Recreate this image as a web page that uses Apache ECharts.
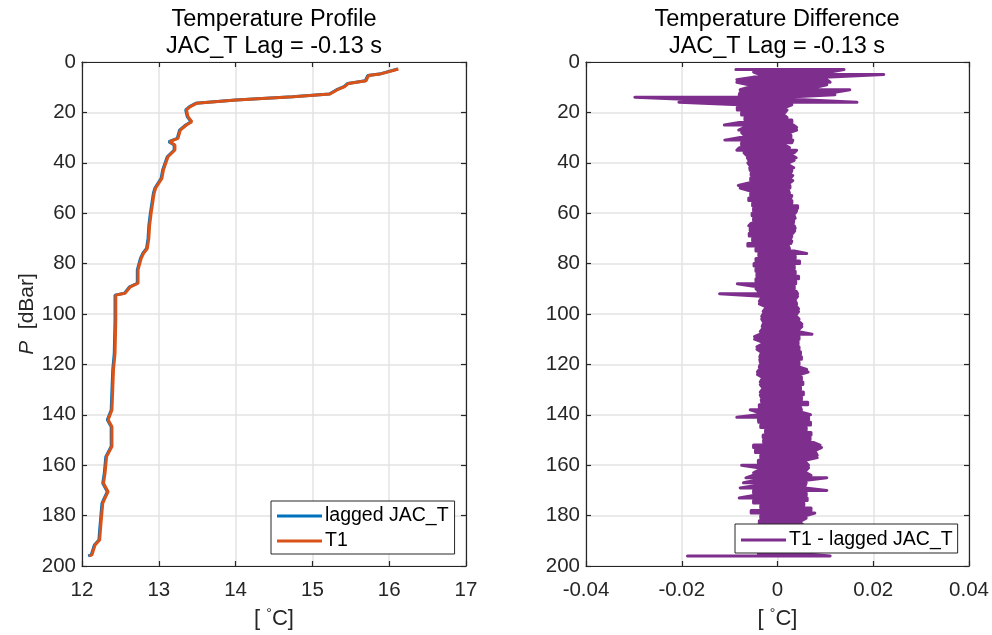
<!DOCTYPE html>
<html>
<head>
<meta charset="utf-8">
<script src="https://cdn.jsdelivr.net/npm/echarts@6/dist/echarts.min.js"></script>
<style>
  html, body { margin: 0; padding: 0; background: #fff; }
  #chart { width: 992px; height: 635px; }
</style>
</head>
<body>
<div id="chart"></div>
<script>
// Temperature profile: pressure (dBar) and temperature (deg C)
const profP = [2.8, 4.8, 5.4, 7.4, 8.5, 9.8, 11.1, 12.7, 13.8, 15.1,
  16.4, 17.7, 19.0, 21.7, 23.7, 25.0, 27.0, 30.3, 31.6, 32.9,
  34.9, 37.6, 42.9, 46.2, 50.0, 52.0, 56.0, 60.0, 65.0, 70.0,
  74.0, 76.0, 78.0, 82.5, 87.8, 89.2, 91.8, 92.5, 102.4, 115.6,
  122.2, 138.1, 142.0, 144.7, 152.6, 156.6, 163.2, 167.2, 170.5, 173.1,
  175.1, 185.7, 189.7, 191.7, 195.6, 196.0];
const t1 = [16.12, 15.88, 15.73, 15.70, 15.47, 15.42, 15.32, 15.23, 14.75, 14.01,
  13.49, 13.41, 13.36, 13.38, 13.43, 13.36, 13.28, 13.25, 13.14, 13.21,
  13.21, 13.12, 13.06, 13.04, 12.96, 12.94, 12.92, 12.90, 12.88, 12.87,
  12.85, 12.80, 12.77, 12.73, 12.73, 12.63, 12.56, 12.44, 12.44, 12.43,
  12.41, 12.39, 12.34, 12.39, 12.39, 12.32, 12.30, 12.28, 12.34, 12.30,
  12.27, 12.24, 12.23, 12.17, 12.13, 12.09];
const laggedJacT = [16.11, 15.87, 15.72, 15.69, 15.46, 15.41, 15.31, 15.22, 14.74, 14.00,
  13.48, 13.40, 13.35, 13.37, 13.42, 13.35, 13.27, 13.24, 13.13, 13.20,
  13.20, 13.11, 13.05, 13.03, 12.95, 12.93, 12.91, 12.89, 12.87, 12.86,
  12.84, 12.79, 12.76, 12.72, 12.72, 12.62, 12.55, 12.43, 12.43, 12.42,
  12.40, 12.38, 12.33, 12.38, 12.38, 12.31, 12.29, 12.27, 12.33, 12.29,
  12.26, 12.23, 12.22, 12.16, 12.12, 12.08];

// T1 - lagged JAC_T: per pressure level, the most negative and most positive
// excursion of the difference signal (deg C)
const diffP = [3, 4, 5, 6, 7, 8, 9, 10, 11, 12,
  13, 14, 15, 16, 17, 18, 19, 20, 21, 22,
  23, 24, 25, 26, 27, 28, 29, 30, 31, 32,
  33, 34, 35, 36, 37, 38, 39, 40, 41, 42,
  43, 44, 45, 46, 47, 48, 49, 50, 51, 52,
  53, 54, 55, 56, 57, 58, 59, 60, 61, 62,
  63, 64, 65, 66, 67, 68, 69, 70, 71, 72,
  73, 74, 75, 76, 77, 78, 79, 80, 81, 82,
  83, 84, 85, 86, 87, 88, 89, 90, 91, 92,
  93, 94, 95, 96, 97, 98, 99, 100, 101, 102,
  103, 104, 105, 106, 107, 108, 109, 110, 111, 112,
  113, 114, 115, 116, 117, 118, 119, 120, 121, 122,
  123, 124, 125, 126, 127, 128, 129, 130, 131, 132,
  133, 134, 135, 136, 137, 138, 139, 140, 141, 142,
  143, 144, 145, 146, 147, 148, 149, 150, 151, 152,
  153, 154, 155, 156, 157, 158, 159, 160, 161, 162,
  163, 164, 165, 166, 167, 168, 169, 170, 171, 172,
  173, 174, 175, 176, 177, 178, 179, 180, 181, 182,
  183, 184, 185, 186, 187, 188, 189, 190, 191, 192,
  193, 194, 195, 196];
const diffLow = [-0.0087, -0.0050, -0.0036, -0.0050, -0.0085, -0.0085, -0.0060, -0.0060, -0.0078, -0.0078,
  -0.0080, -0.0298, -0.0170, -0.0206, -0.0080, -0.0084, -0.0084, -0.0075, -0.0075, -0.0068,
  -0.0068, -0.0080, -0.0111, -0.0070, -0.0081, -0.0075, -0.0070, -0.0078, -0.0110, -0.0075,
  -0.0075, -0.0080, -0.0085, -0.0070, -0.0065, -0.0063, -0.0060, -0.0062, -0.0058, -0.0058,
  -0.0057, -0.0055, -0.0055, -0.0056, -0.0056, -0.0060, -0.0082, -0.0078, -0.0060, -0.0056,
  -0.0056, -0.0060, -0.0060, -0.0052, -0.0052, -0.0050, -0.0050, -0.0053, -0.0053, -0.0050,
  -0.0050, -0.0055, -0.0060, -0.0057, -0.0057, -0.0059, -0.0059, -0.0052, -0.0052, -0.0062,
  -0.0062, -0.0045, -0.0045, -0.0039, -0.0039, -0.0045, -0.0045, -0.0049, -0.0049, -0.0045,
  -0.0045, -0.0043, -0.0043, -0.0045, -0.0045, -0.0084, -0.0050, -0.0045, -0.0040, -0.0121,
  -0.0035, -0.0035, -0.0038, -0.0038, -0.0026, -0.0026, -0.0030, -0.0030, -0.0033, -0.0033,
  -0.0030, -0.0030, -0.0032, -0.0032, -0.0036, -0.0036, -0.0048, -0.0048, -0.0033, -0.0033,
  -0.0043, -0.0043, -0.0035, -0.0035, -0.0037, -0.0037, -0.0036, -0.0036, -0.0038, -0.0038,
  -0.0042, -0.0042, -0.0033, -0.0033, -0.0036, -0.0036, -0.0032, -0.0032, -0.0036, -0.0036,
  -0.0034, -0.0034, -0.0033, -0.0038, -0.0038, -0.0057, -0.0040, -0.0040, -0.0085, -0.0040,
  -0.0039, -0.0035, -0.0035, -0.0025, -0.0025, -0.0030, -0.0030, -0.0029, -0.0029, -0.0050,
  -0.0050, -0.0046, -0.0046, -0.0035, -0.0035, -0.0040, -0.0040, -0.0075, -0.0040, -0.0040,
  -0.0050, -0.0050, -0.0066, -0.0045, -0.0071, -0.0045, -0.0078, -0.0050, -0.0050, -0.0050,
  -0.0080, -0.0050, -0.0050, -0.0035, -0.0035, -0.0055, -0.0055, -0.0035, -0.0035, -0.0038,
  -0.0038, -0.0038, -0.0035, -0.0035, -0.0036, -0.0036, -0.0038, -0.0038, -0.0035, -0.0035,
  -0.0035, -0.0035, -0.0040, -0.0188];
const diffHigh = [0.0139, 0.0110, 0.0222, 0.0110, 0.0103, 0.0110, 0.0103, 0.0080, 0.0151, 0.0120,
  0.0120, 0.0013, 0.0054, 0.0166, 0.0030, 0.0016, 0.0020, 0.0016, 0.0013, 0.0020,
  0.0030, 0.0030, 0.0033, 0.0040, 0.0040, 0.0025, 0.0028, 0.0028, 0.0032, 0.0030,
  0.0015, 0.0025, 0.0040, 0.0035, 0.0030, 0.0039, 0.0035, 0.0023, 0.0025, 0.0034,
  0.0030, 0.0028, 0.0032, 0.0028, 0.0032, 0.0025, 0.0026, 0.0026, 0.0023, 0.0025,
  0.0030, 0.0028, 0.0030, 0.0030, 0.0042, 0.0042, 0.0040, 0.0037, 0.0035, 0.0037,
  0.0034, 0.0033, 0.0035, 0.0037, 0.0036, 0.0032, 0.0030, 0.0028, 0.0030, 0.0028,
  0.0023, 0.0025, 0.0035, 0.0061, 0.0037, 0.0037, 0.0046, 0.0046, 0.0035, 0.0035,
  0.0037, 0.0037, 0.0044, 0.0044, 0.0038, 0.0038, 0.0035, 0.0035, 0.0039, 0.0042,
  0.0042, 0.0038, 0.0038, 0.0040, 0.0040, 0.0044, 0.0044, 0.0040, 0.0040, 0.0045,
  0.0045, 0.0051, 0.0051, 0.0045, 0.0045, 0.0072, 0.0045, 0.0045, 0.0043, 0.0043,
  0.0045, 0.0045, 0.0048, 0.0048, 0.0050, 0.0050, 0.0045, 0.0045, 0.0045, 0.0061,
  0.0064, 0.0046, 0.0050, 0.0050, 0.0053, 0.0053, 0.0048, 0.0048, 0.0054, 0.0054,
  0.0050, 0.0050, 0.0063, 0.0063, 0.0048, 0.0050, 0.0050, 0.0069, 0.0065, 0.0065,
  0.0069, 0.0069, 0.0060, 0.0060, 0.0070, 0.0070, 0.0068, 0.0068, 0.0075, 0.0089,
  0.0092, 0.0080, 0.0080, 0.0083, 0.0083, 0.0060, 0.0060, 0.0065, 0.0065, 0.0060,
  0.0060, 0.0070, 0.0103, 0.0060, 0.0060, 0.0058, 0.0058, 0.0103, 0.0060, 0.0060,
  0.0062, 0.0062, 0.0055, 0.0055, 0.0070, 0.0070, 0.0078, 0.0060, 0.0060, 0.0050,
  0.0050, 0.0055, 0.0055, 0.0050, 0.0050, 0.0052, 0.0052, 0.0050, 0.0050, 0.0055,
  0.0055, 0.0050, 0.0050, 0.0110];

// Axis ticks
const profTempTicks = { min: 12, max: 17, interval: 1 };
const diffTempTicks = { min: -0.04, max: 0.04, interval: 0.02 };
const presTicks = { min: 0, max: 200, interval: 20 };

const FONT = '"Liberation Sans", Arial, Helvetica, sans-serif';
const AX = '#262626';
const GRIDC = '#e3e3e3';
const TICK_FS = 20.5;

function pairs(xs, ys) { return xs.map((x, i) => [x, ys[i]]); }

// Serpentine trace through the low/high excursion of every level
function serpentine(levels, low, high) {
  const out = [];
  levels.forEach((p, i) => {
    if (i % 2 === 0) { out.push([low[i], p], [high[i], p]); }
    else { out.push([high[i], p], [low[i], p]); }
  });
  return out;
}

function bottomAxis(gi, t) {
  return {
    gridIndex: gi, type: 'value', position: 'bottom',
    min: t.min, max: t.max, interval: t.interval,
    name: '[ {deg|°}C]', nameLocation: 'middle', nameGap: 41,
    nameTextStyle: { color: AX, fontSize: 22, fontFamily: FONT,
      rich: { deg: { fontSize: 14, color: AX, fontFamily: FONT, padding: [0, 0, 10, 0] } } },
    axisLine: { show: true, onZero: false, lineStyle: { color: AX, width: 1.2 } },
    axisTick: { show: true, inside: true, length: 5, lineStyle: { color: AX, width: 1.2 } },
    axisLabel: { color: AX, fontSize: TICK_FS, fontFamily: FONT, margin: 14 },
    splitLine: { show: true, lineStyle: { color: GRIDC, width: 1.5 } }
  };
}
function topAxis(gi, t) {
  return {
    gridIndex: gi, type: 'value', position: 'top',
    min: t.min, max: t.max, interval: t.interval,
    axisLine: { show: true, onZero: false, lineStyle: { color: AX, width: 1.2 } },
    axisTick: { show: true, inside: true, length: 5, lineStyle: { color: AX, width: 1.2 } },
    axisLabel: { show: false }, splitLine: { show: false }
  };
}
function leftAxis(gi, withName) {
  const a = {
    gridIndex: gi, type: 'value', position: 'left', inverse: true,
    min: presTicks.min, max: presTicks.max, interval: presTicks.interval,
    axisLine: { show: true, onZero: false, lineStyle: { color: AX, width: 1.2 } },
    axisTick: { show: true, inside: true, length: 5, lineStyle: { color: AX, width: 1.2 } },
    axisLabel: { color: AX, fontSize: TICK_FS, fontFamily: FONT, margin: 6 },
    splitLine: { show: true, lineStyle: { color: GRIDC, width: 1.5 } }
  };
  if (withName) {
    a.name = '{it|P}  [dBar]';
    a.nameLocation = 'middle';
    a.nameGap = 44;
    a.nameTextStyle = { color: AX, fontSize: 21, fontFamily: FONT,
      rich: { it: { fontStyle: 'italic', fontSize: 21, color: AX, fontFamily: FONT } } };
  }
  return a;
}
function rightAxis(gi) {
  return {
    gridIndex: gi, type: 'value', position: 'right', inverse: true,
    min: presTicks.min, max: presTicks.max, interval: presTicks.interval,
    axisLine: { show: true, onZero: false, lineStyle: { color: AX, width: 1.2 } },
    axisTick: { show: true, inside: true, length: 5, lineStyle: { color: AX, width: 1.2 } },
    axisLabel: { show: false }, splitLine: { show: false }
  };
}

const chart = echarts.init(document.getElementById('chart'), null, { renderer: 'canvas' });
chart.setOption({
  animation: false,
  backgroundColor: '#fff',
  title: [
    { text: 'Temperature Profile\nJAC_T Lag = -0.13 s', left: 274, top: 6, padding: 0, textAlign: 'center',
      textStyle: { color: '#000', fontSize: 23.5, fontWeight: 'normal', fontFamily: FONT, lineHeight: 27 } },
    { text: 'Temperature Difference\nJAC_T Lag = -0.13 s', left: 777, top: 6, padding: 0, textAlign: 'center',
      textStyle: { color: '#000', fontSize: 23.5, fontWeight: 'normal', fontFamily: FONT, lineHeight: 27 } }
  ],
  grid: [
    { left: 82, top: 62, width: 384, height: 504 },
    { left: 586, top: 62, width: 383, height: 504 }
  ],
  xAxis: [bottomAxis(0, profTempTicks), topAxis(0, profTempTicks),
          bottomAxis(1, diffTempTicks), topAxis(1, diffTempTicks)],
  yAxis: [leftAxis(0, true), rightAxis(0), leftAxis(1, false), rightAxis(1)],
  legend: [
    { left: 271, top: 501, orient: 'vertical', backgroundColor: '#fff',
      borderColor: AX, borderWidth: 1, padding: [5, 6, 3, 6], itemGap: 5,
      itemWidth: 45, itemHeight: 3, icon: 'rect',
      textStyle: { color: '#000', fontSize: 19.5, fontFamily: FONT, padding: [0, 0, 0, -2] },
      data: ['lagged JAC_T', 'T1'] },
    { left: 735, top: 524, orient: 'vertical', backgroundColor: '#fff',
      borderColor: AX, borderWidth: 1, padding: [6, 5, 3, 6], itemGap: 6,
      itemWidth: 45, itemHeight: 3, icon: 'rect',
      textStyle: { color: '#000', fontSize: 19.5, fontFamily: FONT, padding: [0, 0, 0, -2] },
      data: ['T1 - lagged JAC_T'] }
  ],
  series: [
    { name: 'lagged JAC_T', type: 'line', xAxisIndex: 0, yAxisIndex: 0,
      data: pairs(laggedJacT, profP), showSymbol: false, symbol: 'none',
      color: '#0072BD', lineStyle: { color: '#0072BD', width: 3 }, z: 2 },
    { name: 'T1', type: 'line', xAxisIndex: 0, yAxisIndex: 0,
      data: pairs(t1, profP), showSymbol: false, symbol: 'none',
      color: '#D95319', lineStyle: { color: '#D95319', width: 3 }, z: 3 },
    { name: 'T1 - lagged JAC_T', type: 'line', xAxisIndex: 2, yAxisIndex: 2,
      data: serpentine(diffP, diffLow, diffHigh), showSymbol: false, symbol: 'none',
      color: '#7E2F8E', lineStyle: { color: '#7E2F8E', width: 3, join: 'round', cap: 'round' }, z: 3 }
  ]
});
</script>
</body>
</html>
